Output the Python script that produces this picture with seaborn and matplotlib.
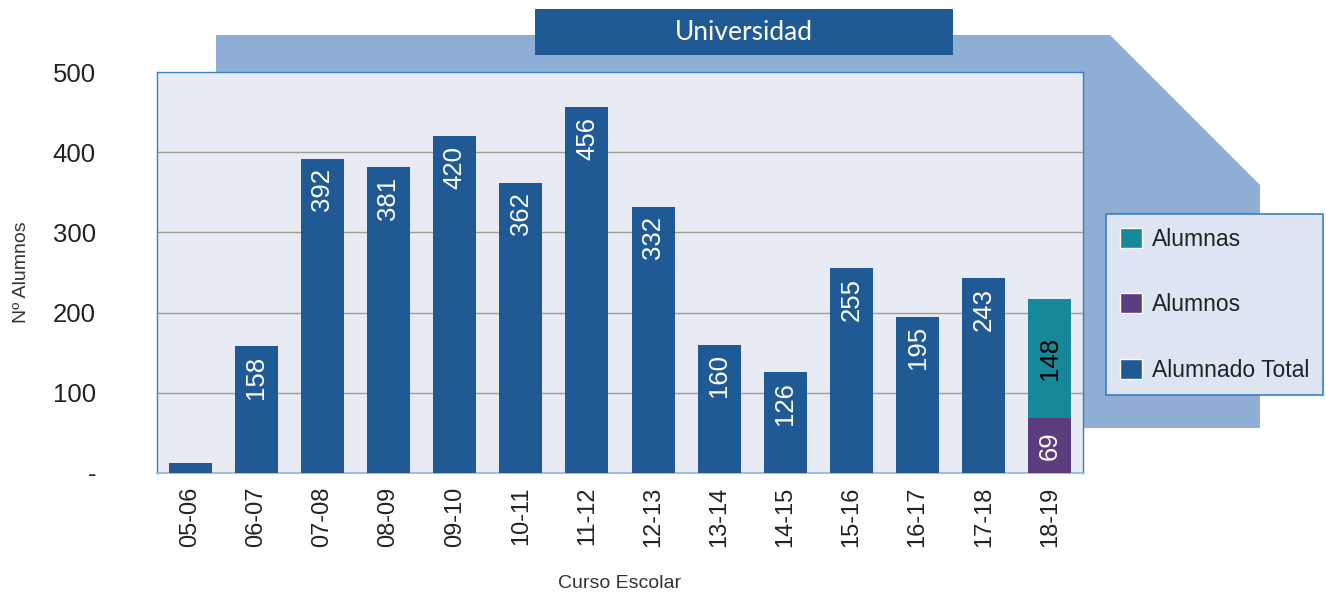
import matplotlib
matplotlib.use("Agg")
import matplotlib.pyplot as plt
from matplotlib.patches import Polygon, Rectangle, Patch
import numpy as np
import pandas as pd
import seaborn as sns

# Curso escolar y alumnado universitario
cursos = ["05-06", "06-07", "07-08", "08-09", "09-10", "10-11", "11-12",
          "12-13", "13-14", "14-15", "15-16", "16-17", "17-18", "18-19"]
alumnado_total = [13, 158, 392, 381, 420, 362, 456, 332, 160, 126, 255, 195, 243, np.nan]
alumnos = [np.nan] * 13 + [69]
alumnas = [np.nan] * 13 + [148]
yticks = [0, 100, 200, 300, 400, 500]
ytick_labels = ["-", "100", "200", "300", "400", "500"]

C_TOTAL = "#1f5a94"
C_ALUMNOS = "#5b3c7e"
C_ALUMNAS = "#17889a"
C_BACK = "#8eaed6"
C_PLOT = "#e8ebf3"

sns.set_theme(style="white")
plt.rcParams["font.family"] = ["Liberation Sans", "DejaVu Sans"]

W, H = 1326, 601
fig = plt.figure(figsize=(W / 100, H / 100), dpi=100)


def fx(px):
    return px / W


def fy(py):
    return 1 - py / H


# Light blue panel behind the chart
panel = Polygon([(fx(216), fy(35)), (fx(1110), fy(35)), (fx(1260), fy(185)),
                 (fx(1260), fy(428)), (fx(216), fy(428))],
                closed=True, transform=fig.transFigure, facecolor=C_BACK,
                edgecolor="none", zorder=0)
fig.patches.append(panel)

ax = fig.add_axes([fx(157), fy(473), fx(1083) - fx(157), fy(72) - fy(473)])
ax.set_facecolor(C_PLOT)
ax.set_zorder(2)

df = pd.DataFrame({"curso": cursos, "total": alumnado_total,
                   "alumnos": alumnos, "alumnas": alumnas})
df["stack"] = df["alumnos"] + df["alumnas"]

bar_kw = dict(width=0.65, saturation=1, linewidth=0, ax=ax)
sns.barplot(data=df, x="curso", y="total", color=C_TOTAL, zorder=3, **bar_kw)
sns.barplot(data=df, x="curso", y="stack", color=C_ALUMNAS, zorder=3, **bar_kw)
sns.barplot(data=df, x="curso", y="alumnos", color=C_ALUMNOS, zorder=4, **bar_kw)

ax.set_xlim(-0.5, len(cursos) - 0.5)
ax.set_ylim(0, 500)
ax.set_yticks(yticks)
ax.set_yticklabels(ytick_labels, fontsize=18.5, color="#222222")
ax.tick_params(axis="y", pad=44, length=0)
ax.tick_params(axis="x", length=0, pad=10, labelsize=17, labelcolor="#222222")
plt.setp(ax.get_xticklabels(), rotation=90)

for y in yticks[1:-1]:
    ax.axhline(y, color="#a39d90", lw=1.0, zorder=1)

for side in ["left", "right", "top"]:
    ax.spines[side].set_color("#3a7fbf")
    ax.spines[side].set_linewidth(1.0)
ax.spines["bottom"].set_color("#8fb3d9")
ax.spines["bottom"].set_linewidth(1.2)

ax.set_xlabel("Curso Escolar", fontsize=14, color="#333333", labelpad=20)
ax.set_ylabel("Nº Alumnos", fontsize=14, color="#333333")
ax.yaxis.set_label_coords(-0.137, 0.5)

# Value labels inside the bars
for i, v in enumerate(alumnado_total):
    if np.isnan(v) or v < 50:
        continue
    ax.annotate(f"{int(v)}", (i, v), xytext=(0, -7), textcoords="offset points",
                rotation=90, ha="center", va="top", color="white", fontsize=18.5,
                zorder=5)

i = len(cursos) - 1
ax.text(i, alumnos[i] / 2, f"{alumnos[i]}", rotation=90, ha="center",
        va="center", color="white", fontsize=18.5, zorder=5)
ax.text(i, alumnos[i] + alumnas[i] / 2, f"{alumnas[i]}", rotation=90,
        ha="center", va="center", color="black", fontsize=18.5, zorder=5)

# Title banner
fig.patches.append(Rectangle((fx(535), fy(55)), fx(953) - fx(535), fy(9) - fy(55),
                             transform=fig.transFigure, facecolor=C_TOTAL,
                             edgecolor="none", zorder=5))
fig.text(fx(744), fy(33), "Universidad", ha="center", va="center",
         color="white", fontsize=19, family=["Lato", "DejaVu Sans"], zorder=6)

# Legend
handles = [Patch(facecolor=C_ALUMNAS, label="Alumnas"),
           Patch(facecolor=C_ALUMNOS, label="Alumnos"),
           Patch(facecolor=C_TOTAL, label="Alumnado Total")]
leg = fig.legend(handles=handles, loc="upper left",
                 bbox_to_anchor=(fx(1106), fy(214)), bbox_transform=fig.transFigure,
                 fontsize=16.5, frameon=True, fancybox=False, borderpad=0.6,
                 labelspacing=1.85, handlelength=0.95, handleheight=0.95,
                 handletextpad=0.45, borderaxespad=0)
leg.get_frame().set_facecolor("#dce5f1")
leg.get_frame().set_edgecolor("#3a7fbf")
leg.get_frame().set_linewidth(1.2)
leg.get_frame().set_alpha(1)
leg.set_zorder(6)
for t in leg.get_texts():
    t.set_color("#222222")

fig.savefig("out.png", dpi=100)
